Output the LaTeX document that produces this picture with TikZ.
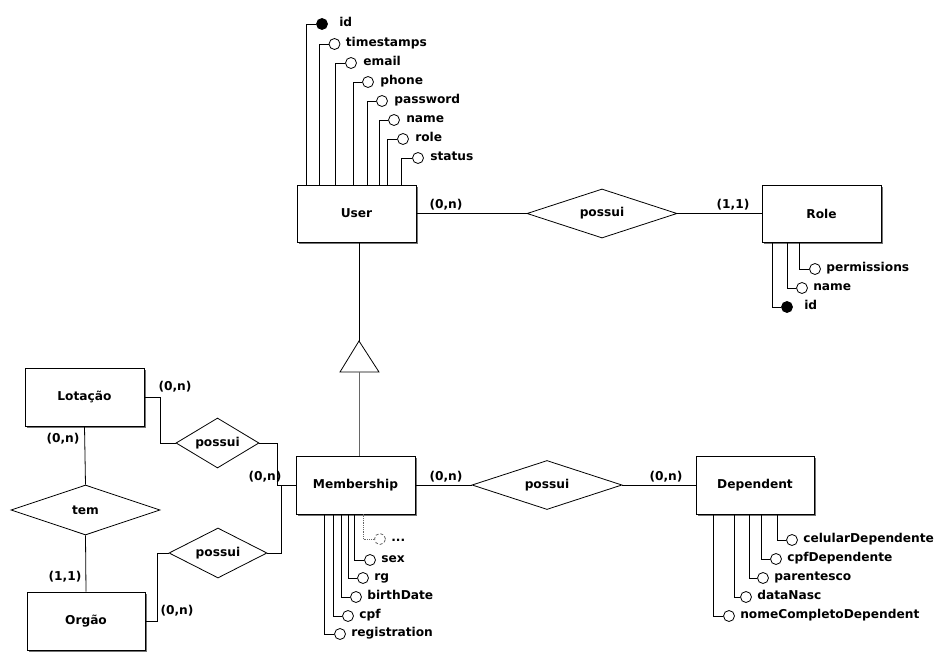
\documentclass[tikz,border=0pt]{standalone}
\usepackage{fontspec}
\setmainfont{DejaVu Sans}
\usetikzlibrary{shapes.geometric,shadows}
\begin{document}
\begin{tikzpicture}[x=1pt,y=-1pt,line width=0.8pt,
  every node/.style={font=\fontsize{12.2}{14}\selectfont\bfseries},
  entity/.style={draw, fill=white, minimum width=119pt, minimum height=57pt, inner sep=0pt,
    drop shadow={shadow xshift=2pt, shadow yshift=-2pt, fill=black!55, opacity=1}},
  rel/.style={draw, diamond, aspect=3, fill=white, inner sep=0pt},
  att/.style={circle, draw, fill=white, minimum size=11pt, inner sep=0pt},
  katt/.style={att, fill=black},
  optatt/.style={att, draw=black!60, densely dashed},
  lbl/.style={anchor=mid west, inner sep=0pt},
  card/.style={inner sep=0pt}]
\useasboundingbox (0,0) rectangle (948,655);

% entities
\node[entity] (user) at (356.5,213.5) {User};
\node[entity] (role) at (821.5,213.5) {Role};
\node[entity, minimum height=58pt] (mem) at (355.5,485) {Membership};
\node[entity, minimum height=58pt, minimum width=118pt] (dep) at (755,485) {Dependent};
\node[entity, minimum height=58pt] (lot) at (84.5,397) {Lotação};
\node[entity, minimum height=58pt, minimum width=118pt] (org) at (86,621) {Orgão};

% relationships
\node[rel, minimum width=150pt, minimum height=49pt] (pur) at (602,213.5) {possui};
\node[rel, minimum width=150pt, minimum height=49pt] (pmd) at (547,485) {possui};
\node[rel, minimum width=83pt, minimum height=50pt] (pl1) at (217.5,443) {possui};
\node[rel, minimum width=98pt, minimum height=50pt] (pl2) at (218,553) {possui};
\node[rel, minimum width=149pt, minimum height=50pt] (tem) at (85.5,510) {tem};

% relationship connectors
\draw (user.east) -- (pur.west);
\draw (pur.east) -- (role.west);
\draw (mem.east) -- (pmd.west);
\draw (pmd.east) -- (dep.west);
\draw (lot.east) -| (160,443) -- (pl1.west);
\draw (pl1.east) -| (277,485) -- (mem.west);
\draw (pl2.east) -| (281,485);
\draw (pl2.west) -| (157,621) -- (org.east);
\draw (lot.south) -- (tem.north);
\draw (tem.south) -- (org.north);

% cardinalities
\node[card] (c1) at (446,205) {(0,n)};
\node[card] (c2) at (733,205) {(1,1)};
\node[card] (c3) at (446,476.5) {(0,n)};
\node[card] (c4) at (666,476.5) {(0,n)};
\node[card] (c5) at (175,387) {(0,n)};
\node[card] (c6) at (265,476.5) {(0,n)};
\node[card] (c7) at (177,611) {(0,n)};
\node[card] (c8) at (63,439) {(0,n)};
\node[card] (c9) at (65,577) {(1,1)};

% specialization triangle
\coordinate (tapex) at (359,341);
\coordinate (tbase) at (359,372);
\draw (user.south -| tapex) -- (tapex);
\draw (tapex) -- (340,372) -- (379,372) -- cycle;
\draw[black!60] (tbase) -- (mem.north -| tbase);

% User attributes
\node[katt] (u1) at (322,24) {};
\node[att] (u2) at (334.5,44) {};
\node[att] (u3) at (351,63) {};
\node[att] (u4) at (368,82) {};
\node[att] (u5) at (382,101) {};
\node[att] (u6) at (394,120) {};
\node[att] (u7) at (403,139) {};
\node[att] (u8) at (418,158) {};
\draw (user.north -| 306,0) |- (u1.west);
\draw (user.north -| 319,0) |- (u2.west);
\draw (user.north -| 335.5,0) |- (u3.west);
\draw (user.north -| 353,0) |- (u4.west);
\draw (user.north -| 367,0) |- (u5.west);
\draw (user.north -| 379,0) |- (u6.west);
\draw (user.north -| 387,0) |- (u7.west);
\draw (user.north -| 401.5,0) |- (u8.west);
\node[lbl] (lu1) at ([xshift=11pt]u1.east) {id};
\node[lbl] (lu2) at ([xshift=5pt]u2.east) {timestamps};
\node[lbl] (lu3) at ([xshift=6pt]u3.east) {email};
\node[lbl] (lu4) at ([xshift=6pt]u4.east) {phone};
\node[lbl] (lu5) at ([xshift=6pt]u5.east) {password};
\node[lbl] (lu6) at ([xshift=6pt]u6.east) {name};
\node[lbl] (lu7) at ([xshift=6pt]u7.east) {role};
\node[lbl] (lu8) at ([xshift=6pt]u8.east) {status};

% Role attributes
\node[att] (r1) at (815,269) {};
\node[att] (r2) at (802,288) {};
\node[katt] (r3) at (787,307) {};
\draw (role.south -| 799,0) |- (r1.west);
\draw (role.south -| 787,0) |- (r2.west);
\draw (role.south -| 772,0) |- (r3.west);
\node[lbl] (lr1) at ([xshift=5pt]r1.east) {permissions};
\node[lbl] (lr2) at ([xshift=5pt]r2.east) {name};
\node[lbl] (lr3) at ([xshift=11pt]r3.east) {id};

% Membership attributes
\node[optatt] (m0) at (380,539) {};
\node[att] (m1) at (370,560) {};
\node[att] (m2) at (363,578) {};
\node[att] (m3) at (356,597) {};
\node[att] (m4) at (348,616) {};
\node[att] (m5) at (340,634) {};
\draw[black!60, densely dotted] (mem.south -| 363,0) |- (m0.west);
\draw (mem.south -| 354,0) |- (m1.west);
\draw (mem.south -| 348,0) |- (m2.west);
\draw (mem.south -| 341,0) |- (m3.west);
\draw (mem.south -| 333,0) |- (m4.west);
\draw (mem.south -| 324,0) |- (m5.west);
\node[lbl] (lm0) at ([xshift=5pt]m0.east) {...};
\node[lbl] (lm1) at ([xshift=5pt]m1.east) {sex};
\node[lbl] (lm2) at ([xshift=5pt]m2.east) {rg};
\node[lbl] (lm3) at ([xshift=5pt]m3.east) {birthDate};
\node[lbl] (lm4) at ([xshift=5pt]m4.east) {cpf};
\node[lbl] (lm5) at ([xshift=5pt]m5.east) {registration};

% Dependent attributes
\node[att] (d1) at (792,540) {};
\node[att] (d2) at (776,559) {};
\node[att] (d3) at (763,578) {};
\node[att] (d4) at (746,597) {};
\node[att] (d5) at (729,616) {};
\draw (dep.south -| 777,0) |- (d1.west);
\draw (dep.south -| 761,0) |- (d2.west);
\draw (dep.south -| 749,0) |- (d3.west);
\draw (dep.south -| 734,0) |- (d4.west);
\draw (dep.south -| 713,0) |- (d5.west);
\node[lbl] (ld1) at ([xshift=5pt]d1.east) {celularDependente};
\node[lbl] (ld2) at ([xshift=5pt]d2.east) {cpfDependente};
\node[lbl] (ld3) at ([xshift=5pt]d3.east) {parentesco};
\node[lbl] (ld4) at ([xshift=5pt]d4.east) {dataNasc};
\node[lbl] (ld5) at ([xshift=5pt]d5.east) {nomeCompletoDependent};
\end{tikzpicture}
\end{document}
